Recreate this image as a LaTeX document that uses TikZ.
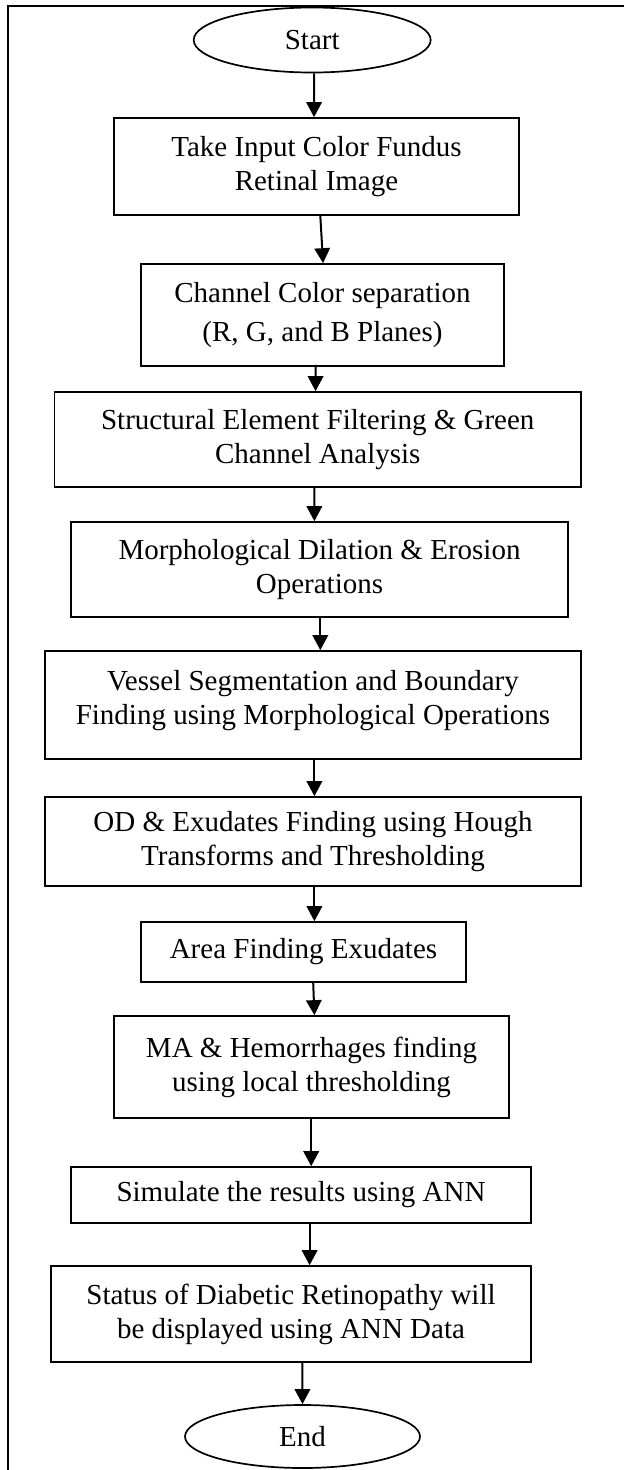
\documentclass[tikz,border=0pt]{standalone}
\usepackage{fontspec}
\setmainfont{Liberation Serif}
\usetikzlibrary{shapes.geometric,arrows.meta}
\tikzset{
  flowbox/.style={draw, rectangle, line width=1.7pt, inner sep=0pt, align=center,
    font=\fontsize{29}{34}\selectfont},
  termbox/.style={draw, ellipse, line width=1.7pt, inner sep=0pt, align=center,
    font=\fontsize{29}{34}\selectfont},
  arr/.style={line width=2pt, -{Triangle[length=15pt,width=15.5pt]}},
  frameline/.style={line width=2.4pt}
}
\begin{document}
\begin{tikzpicture}[x=1pt,y=-1pt]
\useasboundingbox (0,0) rectangle (624,1470);
\draw[frameline] (624,6) -- (8,6) -- (8,1472);

\node[termbox, minimum width=237pt, minimum height=65pt] (start) at (312.2,40) {Start};
\node[flowbox, minimum width=405pt, minimum height=97pt] (b1) at (316.5,166.5) {Take Input Color Fundus\\Retinal Image};
\node[flowbox, minimum width=363pt, minimum height=102pt] (b2) at (322.5,315) {Channel Color separation\\[5pt](R, G, and B Planes)};
\node[flowbox, minimum width=526.5pt, minimum height=95pt] (b3) at (317.75,439.5) {Structural Element Filtering \& Green\\Channel Analysis};
\node[flowbox, minimum width=497pt, minimum height=95pt] (b4) at (319.5,569.5) {Morphological Dilation \& Erosion\\Operations};
\node[flowbox, minimum width=536pt, minimum height=108pt] (b5) at (313,705) {Vessel Segmentation and Boundary\\Finding using Morphological Operations\\[-18pt]\mbox{}};
\node[flowbox, minimum width=536pt, minimum height=89pt] (b6) at (313,841.5) {OD \& Exudates Finding using Hough\\Transforms and Thresholding};
\node[flowbox, minimum width=325pt, minimum height=60pt] (b7) at (303.5,952) {Area Finding Exudates};
\node[flowbox, minimum width=395pt, minimum height=102pt] (b8) at (311.5,1067) {MA \& Hemorrhages finding\\using local thresholding};
\node[flowbox, minimum width=460pt, minimum height=56pt] (b9) at (301,1195) {Simulate the results using ANN};
\node[flowbox, minimum width=480pt, minimum height=96pt] (b10) at (291,1314) {Status of Diabetic Retinopathy will\\be displayed using ANN Data};
\node[termbox, minimum width=235pt, minimum height=63pt] (end) at (302.5,1436.5) {End};

\draw[arr] ([xshift=2pt]start.south) -- ([xshift=-2.5pt]b1.north);
\draw[arr] ([xshift=3.8pt]b1.south) -- ([xshift=0.6pt]b2.north);
\draw[arr] ([xshift=-6.9pt,yshift=2pt]b2.south) -- ([xshift=-2.2pt]b3.north);
\draw[arr] ([xshift=-3.4pt]b3.south) -- ([xshift=-5.1pt]b4.north);
\draw[arr] ([xshift=0.8pt]b4.south) -- ([xshift=7.3pt]b5.north);
\draw[arr] ([xshift=1.4pt]b5.south) -- ([xshift=1.4pt]b6.north);
\draw[arr] ([xshift=1.4pt]b6.south) -- ([xshift=10.9pt]b7.north);
\draw[arr] ([xshift=9.7pt]b7.south) -- ([xshift=2.9pt]b8.north);
\draw[arr] ([xshift=-0.3pt]b8.south) -- ([xshift=10.2pt]b9.north);
\draw[arr] ([xshift=8.6pt]b9.south) -- ([xshift=18.6pt]b10.north);
\draw[arr] ([xshift=11.4pt]b10.south) -- ([xshift=0pt]end.north);
\end{tikzpicture}
\end{document}
